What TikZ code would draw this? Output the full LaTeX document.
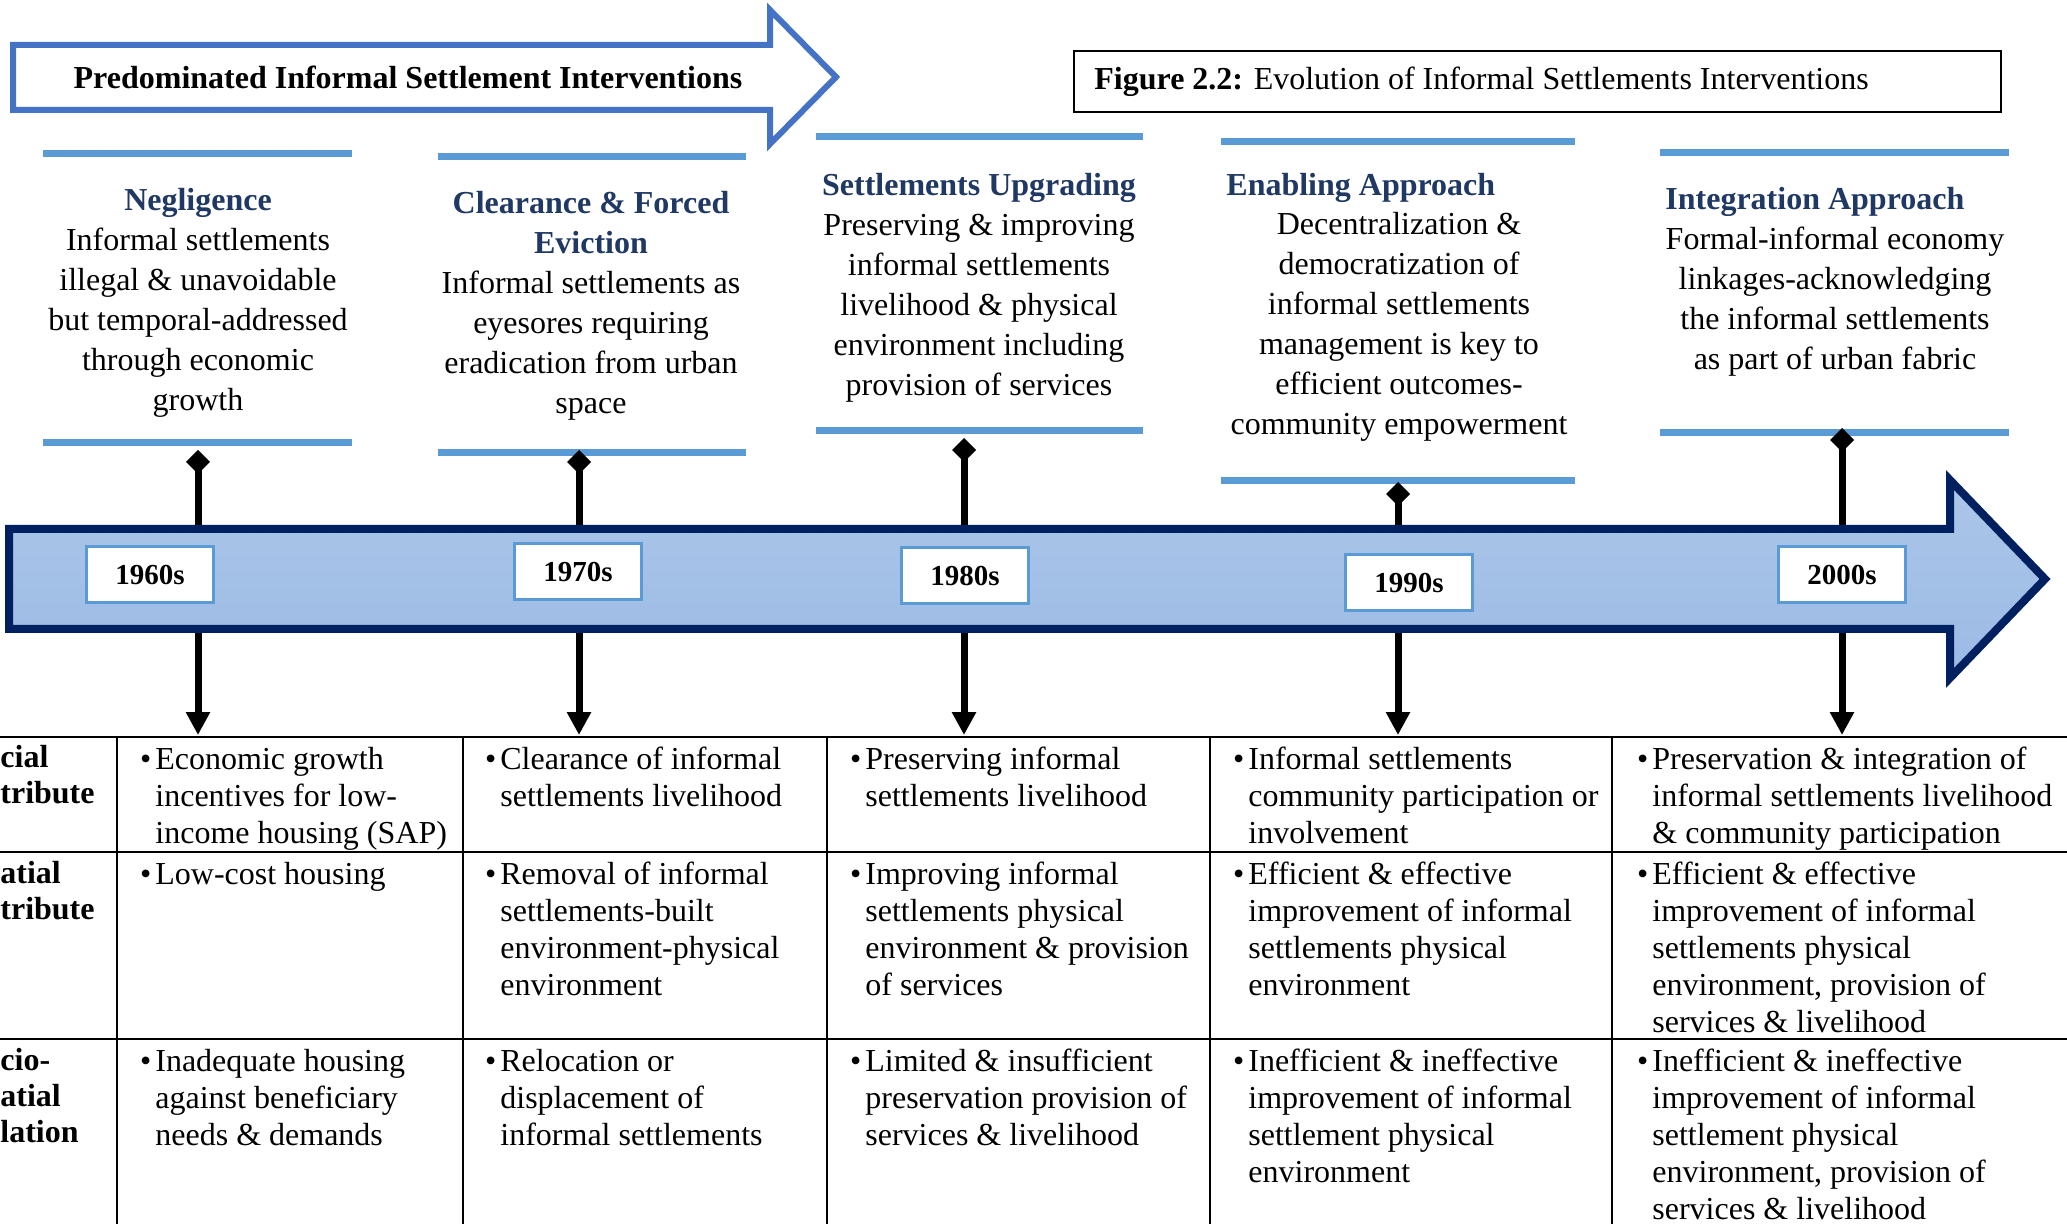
\documentclass[tikz,border=0pt]{standalone}
\usepackage{fontspec}
\setmainfont{Liberation Serif}
\usetikzlibrary{arrows.meta}
\definecolor{hdblue}{HTML}{1F3864}
\definecolor{lnblue}{HTML}{5B9BD5}
\definecolor{arblue}{HTML}{4472C4}
\definecolor{navyb}{HTML}{002060}
\definecolor{fillA}{RGB}{172,198,233}
\definecolor{fillB}{RGB}{155,186,228}
\begin{document}
\begin{tikzpicture}[x=0.5pt,y=-0.5pt,
  hd/.style={font=\fontsize{16pt}{20pt}\selectfont, align=center, inner sep=0pt, anchor=north},
  ttl/.style={font=\fontsize{16pt}{20pt}\selectfont\bfseries, text=hdblue, inner sep=0pt, anchor=north west},
  cell/.style={font=\fontsize{16pt}{18.5pt}\selectfont, align=left, inner sep=0pt, anchor=north west},
  lbl/.style={font=\fontsize{16pt}{18pt}\selectfont\bfseries, align=left, inner sep=0pt, anchor=north west},
  yr/.style={draw=lnblue, line width=1.5pt, fill=white, minimum width=63.5pt, minimum height=28pt, inner sep=0pt, font=\fontsize{14.5pt}{16pt}\selectfont\bfseries},
  hline/.style={lnblue, line width=3.5pt},
  stem/.style={line width=3.5pt, {Diamond[length=12pt,width=12pt]}-{Triangle[length=11.5pt,width=11.5pt]}},
  gridline/.style={line width=1.2pt}
]
\useasboundingbox (0,0) rectangle (2067,1224);

% header separator lines
\draw[hline] (43,154) -- (352,154);
\draw[hline] (43,443) -- (352,443);
\draw[hline] (438,157) -- (746,157);
\draw[hline] (438,453) -- (746,453);
\draw[hline] (816,137) -- (1143,137);
\draw[hline] (816,431) -- (1143,431);
\draw[hline] (1221,142) -- (1575,142);
\draw[hline] (1221,481) -- (1575,481);
\draw[hline] (1660,153) -- (2009,153);
\draw[hline] (1660,433) -- (2009,433);

% header texts
\node[hd] (h1) at (198,188) {{\color{hdblue}\bfseries Negligence}\\Informal settlements\\illegal \& unavoidable\\but temporal-addressed\\through economic\\growth};
\node[hd] (h2) at (591,191) {{\color{hdblue}\bfseries Clearance \& Forced}\\{\color{hdblue}\bfseries Eviction}\\Informal settlements as\\eyesores requiring\\eradication from urban\\space};
\node[hd] (h3) at (979,173) {{\color{hdblue}\bfseries Settlements Upgrading}\\Preserving \& improving\\informal settlements\\livelihood \& physical\\environment including\\provision of services};
\node[ttl] (t4) at (1226,173) {Enabling Approach};
\node[hd] (h4) at (1399,212) {Decentralization \&\\democratization of\\informal settlements\\management is key to\\efficient outcomes-\\community empowerment};
\node[ttl] (t5) at (1665,187) {Integration Approach};
\node[hd] (h5) at (1835,227) {Formal-informal economy\\linkages-acknowledging\\the informal settlements\\as part of urban fabric};

% stems
\coordinate (d1) at (198,450); \coordinate (e1) at (198,735);
\coordinate (d2) at (579,450); \coordinate (e2) at (579,735);
\coordinate (d3) at (964,438); \coordinate (e3) at (964,735);
\coordinate (d4) at (1398,482); \coordinate (e4) at (1398,735);
\coordinate (d5) at (1842,428); \coordinate (e5) at (1842,735);
\draw[stem] (d1) -- (e1);
\draw[stem] (d2) -- (e2);
\draw[stem] (d3) -- (e3);
\draw[stem] (d4) -- (e4);
\draw[stem] (d5) -- (e5);

% timeline arrow
\path[draw=navyb, line width=4pt, top color=fillA, bottom color=fillB]
  (9,529) -- (1950,529) -- (1950,480) -- (2045,579) -- (1950,678) -- (1950,629) -- (9,629) -- cycle;

% year boxes
\node[yr] (y1) at (150,575) {1960s};
\node[yr] (y2) at (578,572) {1970s};
\node[yr] (y3) at (965,576) {1980s};
\node[yr] (y4) at (1409,583) {1990s};
\node[yr] (y5) at (1842,575) {2000s};

% table grid
\draw[gridline] (0,737) -- (2067,737);
\draw[gridline] (0,852) -- (2067,852);
\draw[gridline] (0,1039) -- (2067,1039);
\foreach \vx in {117,463,827,1210,1612} {\draw[gridline] (\vx,737) -- (\vx,1224);}

% row labels
\node[lbl] (r1) at (0,745) {cial\\tribute};
\node[lbl] (r2) at (0,861) {atial\\tribute};
\node[lbl] (r3) at (0,1048) {cio-\\atial\\lation};

% table cells
\newcommand{\bul}{\llap{\textbullet\hspace{2pt}}}
\node[cell] (c11) at (155,747) {\bul Economic growth\\incentives for low-\\income housing (SAP)};
\node[cell] (c12) at (500,747) {\bul Clearance of informal\\settlements livelihood};
\node[cell] (c13) at (865,747) {\bul Preserving informal\\settlements livelihood};
\node[cell] (c14) at (1248,747) {\bul Informal settlements\\community participation or\\involvement};
\node[cell] (c15) at (1652,747) {\bul Preservation \& integration of\\informal settlements livelihood\\\& community participation};

\node[cell] (c21) at (155,862) {\bul Low-cost housing};
\node[cell] (c22) at (500,862) {\bul Removal of informal\\settlements-built\\environment-physical\\environment};
\node[cell] (c23) at (865,862) {\bul Improving informal\\settlements physical\\environment \& provision\\of services};
\node[cell] (c24) at (1248,862) {\bul Efficient \& effective\\improvement of informal\\settlements physical\\environment};
\node[cell] (c25) at (1652,862) {\bul Efficient \& effective\\improvement of informal\\settlements physical\\environment, provision of\\services \& livelihood};

\node[cell] (c31) at (155,1049) {\bul Inadequate housing\\against beneficiary\\needs \& demands};
\node[cell] (c32) at (500,1049) {\bul Relocation or\\displacement of\\informal settlements};
\node[cell] (c33) at (865,1049) {\bul Limited \& insufficient\\preservation provision of\\services \& livelihood};
\node[cell] (c34) at (1248,1049) {\bul Inefficient \& ineffective\\improvement of informal\\settlement physical\\environment};
\node[cell] (c35) at (1652,1049) {\bul Inefficient \& ineffective\\improvement of informal\\settlement physical\\environment, provision of\\services \& livelihood};

% top banner arrow
\draw[arblue, line width=3pt, fill=white]
  (13,45) -- (770,45) -- (770,10) -- (836,77) -- (770,144) -- (770,110) -- (13,110) -- cycle;
\node[font=\fontsize{16pt}{20pt}\selectfont\bfseries, inner sep=0pt] (ban) at (408,77) {Predominated Informal Settlement Interventions};

% figure caption box
\draw[line width=1pt] (1074,51) rectangle (2001,112);
\node[font=\fontsize{16pt}{20pt}\selectfont, inner sep=0pt, anchor=west] (cap) at (1094,82) {\textbf{Figure 2.2:} Evolution of Informal Settlements Interventions};
\end{tikzpicture}
\end{document}
